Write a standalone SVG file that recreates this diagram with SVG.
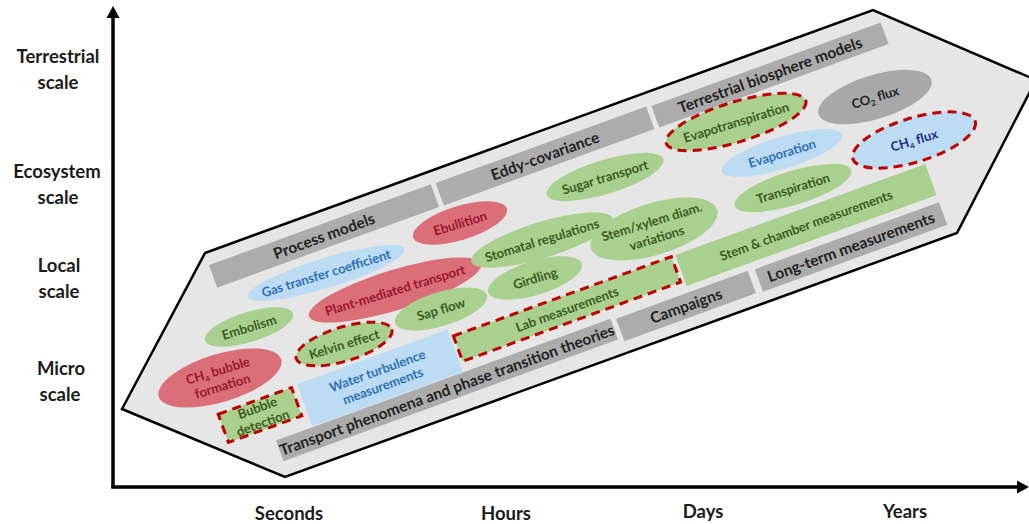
<svg xmlns="http://www.w3.org/2000/svg" width="1029" height="524" viewBox="0 0 1029 524">
<defs>
<style>
text{font-family:Lato,"Open Sans","Liberation Sans",sans-serif;font-weight:700;text-anchor:middle}
.ax{font-size:18.5px;fill:#1b1b1b}
.bar{fill:#acacac}
.bt{font-size:15.5px;fill:#222}
.g{fill:#a9d08e}
.r{fill:#db6f79}
.b{fill:#bcdcf3}
.k{fill:#a8a8a8}
.dsh{stroke:#c00000;stroke-width:3;stroke-dasharray:9 6}
.et{font-size:13px}
.tg{fill:#3b5a1f}
.tr{fill:#9a1531}
.tb{fill:#2e70b8}
.tn{fill:#1c2a8c}
.tk{fill:#222}
.sub{font-size:8px}
</style>
</defs>
<rect width="1029" height="524" fill="#fff"/>

<g id="hexagon">
<polygon points="205,253 873,10 1036,80 957,233 285,477 122,409" fill="#e6e6e6" stroke="#000" stroke-width="2.5" stroke-linejoin="miter"/>
</g>

<g id="connectors">
<line x1="113" y1="488" x2="113" y2="16" stroke="#000" stroke-width="3.5"/>
<polygon points="113,6 106.5,18 119.5,18" fill="#000"/>
<line x1="111.3" y1="487" x2="1018" y2="487" stroke="#000" stroke-width="3.5"/>
<polygon points="1029,487 1017,480.5 1017,493.5" fill="#000"/>
</g>

<g id="axis-labels">
<text class="ax" x="58" y="63">Terrestrial</text>
<text class="ax" x="58" y="89">scale</text>
<text class="ax" x="57" y="178">Ecosystem</text>
<text class="ax" x="58" y="204">scale</text>
<text class="ax" x="59" y="272">Local</text>
<text class="ax" x="59" y="298">scale</text>
<text class="ax" x="61" y="375">Micro</text>
<text class="ax" x="60" y="401">scale</text>
<text class="ax" x="289" y="520">Seconds</text>
<text class="ax" x="506" y="520">Hours</text>
<text class="ax" x="703" y="518">Days</text>
<text class="ax" x="905" y="518">Years</text>
</g>

<g id="process-models" transform="translate(324,236) rotate(-20)">
<rect class="bar" x="-118" y="-12" width="236" height="24"/>
<text class="bt" y="5.5">Process models</text>
</g>
<g id="eddy-covariance" transform="translate(545,156) rotate(-20)">
<rect class="bar" x="-112" y="-12" width="224" height="24"/>
<text class="bt" y="5.5">Eddy-covariance</text>
</g>
<g id="terrestrial-biosphere-models" transform="translate(770,75) rotate(-20)">
<rect class="bar" x="-122" y="-11.5" width="244" height="23"/>
<text class="bt" y="5.5">Terrestrial biosphere models</text>
</g>
<g id="transport-phenomena" transform="translate(447,390) rotate(-20)">
<rect class="bar" x="-178" y="-11" width="356" height="22"/>
<text class="bt" y="5.5">Transport phenomena and phase transition theories</text>
</g>
<g id="campaigns" transform="translate(686,306) rotate(-20)">
<rect class="bar" x="-70" y="-12" width="140" height="24"/>
<text class="bt" y="5.5">Campaigns</text>
</g>
<g id="long-term-measurements" transform="translate(851,247) rotate(-20)">
<rect class="bar" x="-98" y="-12" width="196" height="24"/>
<text class="bt" y="5.5">Long-term measurements</text>
</g>

<g id="stem-chamber-measurements" transform="translate(806,225) rotate(-20)">
<rect class="g" x="-133" y="-16.5" width="266" height="33"/>
<text class="et tg" y="5">Stem &amp; chamber measurements</text>
</g>
<g id="lab-measurements" transform="translate(567,309) rotate(-20)">
<rect class="g dsh" x="-116" y="-13.5" width="232" height="27"/>
<text class="et tg" y="5">Lab measurements</text>
</g>
<g id="water-turbulence-measurements" transform="translate(380,378) rotate(-20)">
<rect class="b" x="-80" y="-22.5" width="160" height="45"/>
<text class="et tb" y="-3">Water turbulence</text>
<text class="et tb" y="13">measurements</text>
</g>
<g id="bubble-detection" transform="translate(260,415) rotate(-20)">
<rect class="g dsh" x="-39" y="-15" width="78" height="30"/>
<text class="et tg" y="-3">Bubble</text>
<text class="et tg" y="13">detection</text>
</g>

<g id="gas-transfer-coefficient" transform="translate(326,273) rotate(-17)">
<ellipse class="b" rx="82" ry="15"/>
<text class="et tb" y="5">Gas transfer coefficient</text>
</g>
<g id="plant-mediated-transport" transform="translate(395,290) rotate(-17)">
<ellipse class="r" rx="90" ry="20"/>
<text class="et tr" y="5">Plant-mediated transport</text>
</g>
<g id="embolism" transform="translate(249,327) rotate(-17)">
<ellipse class="g" rx="46" ry="15"/>
<text class="et tg" y="5">Embolism</text>
</g>
<g id="kelvin-effect" transform="translate(344,344) rotate(-17)">
<ellipse class="g dsh" rx="50" ry="17"/>
<text class="et tg" y="5">Kelvin effect</text>
</g>
<g id="ch4-bubble-formation" transform="translate(220,378) rotate(-17)">
<ellipse class="r" rx="64" ry="24"/>
<text class="et tr" y="-3">CH<tspan class="sub" dy="3">4</tspan><tspan dy="-3"> bubble</tspan></text>
<text class="et tr" y="13">formation</text>
</g>
<g id="sap-flow" transform="translate(441,309) rotate(-17)">
<ellipse class="g" rx="48" ry="17"/>
<text class="et tg" y="5">Sap flow</text>
</g>
<g id="girdling" transform="translate(535,278) rotate(-17)">
<ellipse class="g" rx="49" ry="17"/>
<text class="et tg" y="5">Girdling</text>
</g>
<g id="ebullition" transform="translate(460,223) rotate(-17)">
<ellipse class="r" rx="49" ry="17"/>
<text class="et tr" y="5">Ebullition</text>
</g>
<g id="stomatal-regulations" transform="translate(542,240) rotate(-17)">
<ellipse class="g" rx="74" ry="18"/>
<text class="et tg" y="5">Stomatal regulations</text>
</g>
<g id="sugar-transport" transform="translate(605,177) rotate(-17)">
<ellipse class="g" rx="61" ry="17"/>
<text class="et tg" y="5">Sugar transport</text>
</g>
<g id="stem-xylem-variations" transform="translate(654,229) rotate(-17)">
<ellipse class="g" rx="66" ry="26"/>
<text class="et tg" y="-3">Stem/xylem diam.</text>
<text class="et tg" y="14">variations</text>
</g>
<g id="evapotranspiration" transform="translate(736,122) rotate(-17)">
<ellipse class="g dsh" rx="73" ry="20"/>
<text class="et tg" y="5">Evapotranspiration</text>
</g>
<g id="evaporation" transform="translate(782,153) rotate(-17)">
<ellipse class="b" rx="63" ry="16"/>
<text class="et tb" y="5">Evaporation</text>
</g>
<g id="transpiration" transform="translate(793,188) rotate(-17)">
<ellipse class="g" rx="61" ry="17"/>
<text class="et tg" y="5">Transpiration</text>
</g>
<g id="co2-flux" transform="translate(875,97) rotate(-17)">
<ellipse class="k" rx="59" ry="22"/>
<text class="et tk" y="5">CO<tspan class="sub" dy="3">2</tspan><tspan dy="-3"> flux</tspan></text>
</g>
<g id="ch4-flux" transform="translate(914,140) rotate(-17)">
<ellipse class="b dsh" rx="64" ry="22"/>
<text class="et tn" y="5">CH<tspan class="sub" dy="3">4</tspan><tspan dy="-3"> flux</tspan></text>
</g>
</svg>
